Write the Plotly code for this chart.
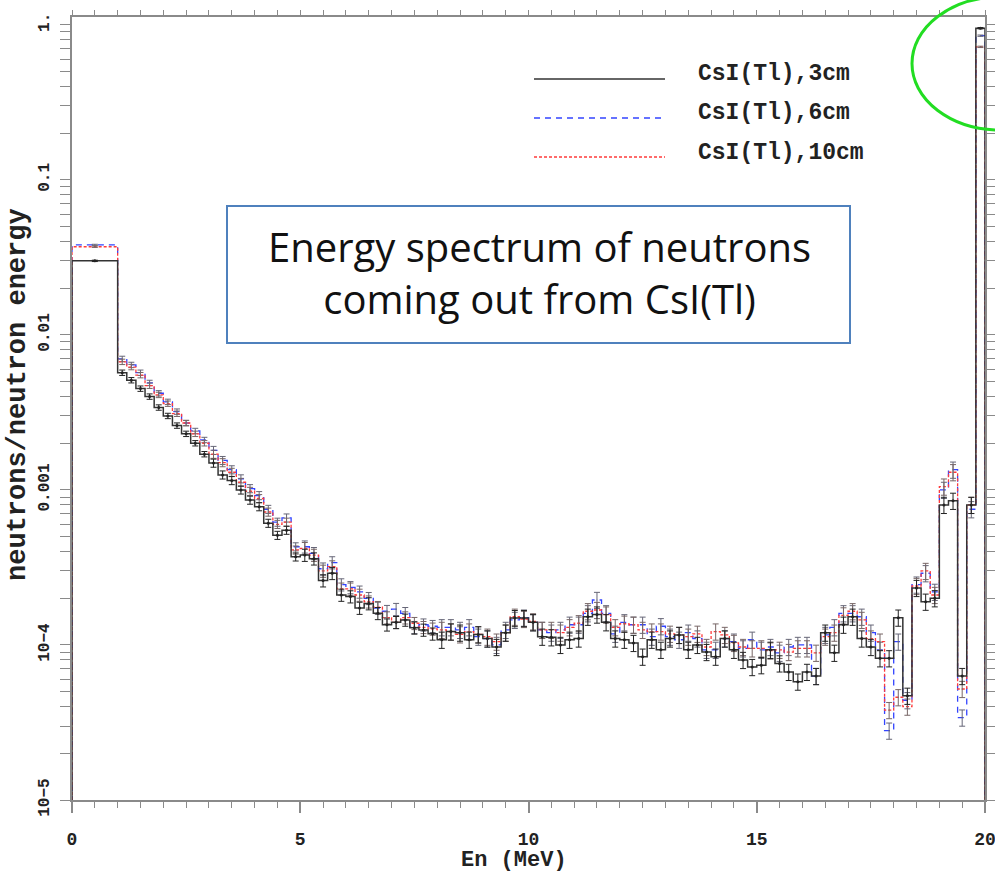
import plotly.graph_objects as go

# ---------------- data ----------------
# bin edges: first bin 0-1 MeV, then 0.2 MeV bins up to 20 MeV
edges = [0.0] + [round(1.0 + 0.2 * i, 1) for i in range(96)]

csi_3cm = [0.030,
    0.0057, 0.0051, 0.0045, 0.0040, 0.0034,
    0.0030, 0.0026, 0.0023, 0.0020, 0.0017,
    0.00149, 0.00125, 0.00115, 0.0010, 0.00086,
    0.00078, 0.00061, 0.00051, 0.00055, 0.00037,
    0.00038, 0.00036, 0.00026, 0.00029, 0.00021,
    0.000205, 0.000173, 0.000185, 0.00016, 0.000135,
    0.00014, 0.000145, 0.000129, 0.000125, 0.000118,
    0.000108, 0.000122, 0.00012, 0.000108, 0.000117,
    0.00011, 0.000097, 0.00012, 0.000149, 0.000149,
    0.00014, 0.000113, 0.000112, 0.0001, 0.000108,
    0.00011, 0.000152, 0.000157, 0.00014, 0.00011,
    0.000108, 0.000103, 0.000084, 0.000108, 0.000093,
    0.00011, 0.000116, 0.000093, 0.0001, 0.00009,
    0.000084, 0.00011, 0.000093, 0.00008, 0.000072,
    0.000074, 0.000093, 0.000076, 0.000067, 0.000058,
    0.000067, 0.000063, 0.00012, 0.000089, 0.000135,
    0.000152, 0.00011, 0.000097, 0.000082, 0.000082,
    0.00015, 0.000047, 0.000233, 0.00019, 0.0002,
    0.0008, 0.00085, 0.000063, 0.0008, 0.95]

csi_6cm = [0.038,
    0.0070, 0.0064, 0.0057, 0.0049, 0.0042,
    0.0037, 0.0032, 0.0027, 0.0024, 0.0021,
    0.0018, 0.00155, 0.00135, 0.00118, 0.00102,
    0.00092, 0.00075, 0.00062, 0.00066, 0.00043,
    0.00043, 0.00039, 0.00031, 0.00034, 0.000245,
    0.000235, 0.00022, 0.0002, 0.000173, 0.000165,
    0.00017, 0.00016, 0.00013, 0.000135, 0.000132,
    0.00013, 0.00013, 0.000125, 0.00013, 0.000113,
    0.00011, 0.0001, 0.000125, 0.000145, 0.00015,
    0.00014, 0.000125, 0.00012, 0.000125, 0.000135,
    0.000135, 0.00016, 0.000195, 0.00016, 0.000118,
    0.00014, 0.000135, 0.000135, 0.000113, 0.000132,
    0.000113, 0.000108, 0.00012, 0.00011, 0.000093,
    0.000093, 0.00011, 0.000105, 0.000095, 0.000108,
    0.000093, 0.000097, 0.000089, 0.000097, 0.0001,
    0.0001, 0.000063, 0.000116, 0.00013, 0.00016,
    0.00016, 0.000152, 0.00012, 0.000093, 0.000028,
    0.000105, 0.000044, 0.000245, 0.00029, 0.00022,
    0.001, 0.00135, 0.000034, 0.00075, 0.85]

csi_10cm = [0.037,
    0.0067, 0.0062, 0.0055, 0.0047, 0.0041,
    0.0036, 0.0031, 0.0027, 0.0023, 0.0020,
    0.0017, 0.0015, 0.0013, 0.00112, 0.00098,
    0.00088, 0.00072, 0.0006, 0.00062, 0.00041,
    0.00042, 0.00038, 0.0003, 0.00032, 0.00023,
    0.00023, 0.00021, 0.00019, 0.000175, 0.00015,
    0.00014, 0.00015, 0.000138, 0.00013, 0.000127,
    0.000125, 0.000122, 0.000117, 0.000122, 0.000117,
    0.000113, 0.000105, 0.00012, 0.000152, 0.000147,
    0.000142, 0.000125, 0.000125, 0.00012, 0.00013,
    0.000138, 0.000165, 0.000168, 0.000157, 0.00013,
    0.000137, 0.000135, 0.000125, 0.000122, 0.000122,
    0.000118, 0.000116, 0.000113, 0.000118, 0.000097,
    0.000122, 0.000116, 0.000103, 0.000097, 0.000095,
    0.000095, 0.000092, 0.000093, 0.00009, 0.000095,
    0.000095, 0.000089, 0.000113, 0.00012, 0.000155,
    0.000165, 0.000145, 0.00011, 0.000105, 0.000038,
    0.000046, 0.00004, 0.00024, 0.0003, 0.00021,
    0.00105, 0.0013, 0.000052, 0.0008, 0.72]

# relative statistical errors per bin (estimated by region)
rel_err = [0.01] + [0.04] * 10 + [0.06] * 10 + [0.09] * 15 + [0.12] * 59 + [0.01]

series_names = ["CsI(Tl),3cm", "CsI(Tl),6cm", "CsI(Tl),10cm"]
y_major_labels = ["10\u22125", "10\u22124", "0.001", "0.01", "0.1", "1."]
box_text = "Energy spectrum of neutrons<br>coming out from CsI(Tl)"

# ---------------- layout helpers ----------------
W, H = 995, 875
L, R, T, B = 72, 10, 17, 75
PW, PH = W - L - R, H - T - B

def px(xp):
    return (xp - L) / PW

def py(yp):
    return (H - B - yp) / PH

MONO = "Liberation Mono"
FLOOR = 1e-7

centers = [(edges[i] + edges[i + 1]) / 2 for i in range(len(edges) - 1)]

def step_xy(vals):
    xs = [edges[0], edges[0]] + edges[1:-1] + [edges[-1], edges[-1]]
    ys = [FLOOR] + list(vals) + [vals[-1], FLOOR]
    return xs, ys

styles = [
    dict(color="#333333", dash="solid", width=1.5, ecol="#222222"),
    dict(color="#3344ff", dash="6px,5px", width=1.3, ecol="#666677"),
    dict(color="#ff3b3b", dash="3px,2px", width=1.3, ecol="#776666"),
]
data_sets = [csi_3cm, csi_6cm, csi_10cm]

fig = go.Figure()
for idx in [1, 2, 0]:
    vals = data_sets[idx]
    st = styles[idx]
    xs, ys = step_xy(vals)
    fig.add_trace(go.Scatter(
        x=xs, y=ys, mode="lines", line_shape="hv",
        line=dict(color=st["color"], dash=st["dash"], width=st["width"]),
        name=series_names[idx], showlegend=False, hoverinfo="skip"))
    fig.add_trace(go.Scatter(
        x=centers, y=vals, mode="markers",
        marker=dict(size=3 if idx == 0 else 1, color=st["ecol"]),
        error_y=dict(type="data", array=[v * e for v, e in zip(vals, rel_err)],
                     color=st["ecol"], thickness=1, width=3),
        showlegend=False, hoverinfo="skip"))

# dummy trace for the mirrored top/right axes
fig.add_trace(go.Scatter(x=[None], y=[None], xaxis="x2", yaxis="y2",
                         showlegend=False, hoverinfo="skip"))

y_ticks = []
y_text = []
for d in range(-5, 1):
    for m in range(1, 10):
        v = m * 10 ** d
        if v > 1.01:
            break
        y_ticks.append(v)
        y_text.append(y_major_labels[d + 5] if m == 1 else "")

axis_col = "#8a8a8a"
tfont_x = dict(family=MONO, size=18, color="#222222", weight="bold")
tfont_y = dict(family=MONO, size=16, color="#222222", weight="bold")

fig.update_layout(
    width=W, height=H,
    margin=dict(l=L, r=R, t=T, b=B, autoexpand=False),
    paper_bgcolor="white", plot_bgcolor="white",
    showlegend=False,
    xaxis=dict(range=[0, 20], showline=True, linecolor=axis_col, linewidth=2,
               ticks="outside", ticklen=11, tickwidth=1.5, tickcolor=axis_col,
               tick0=0, dtick=5, tickfont=tfont_x, ticklabelstandoff=10,
               ticklabeloverflow="allow",
               showgrid=False, zeroline=False, automargin=False,
               minor=dict(ticks="outside", ticklen=6, dtick=0.5, tickcolor=axis_col,
                          tickwidth=1.2, showgrid=False)),
    xaxis2=dict(range=[0, 20], overlaying="x", side="top", showline=True,
                linecolor=axis_col, linewidth=2, ticks="outside", ticklen=5,
                tickwidth=1.2, tickcolor=axis_col, tick0=0, dtick=0.5,
                showticklabels=False, showgrid=False, zeroline=False, automargin=False),
    yaxis=dict(type="log", range=[-5, 0.05], showline=True, linecolor=axis_col,
               linewidth=2, ticks="outside", ticklen=10, tickwidth=1.2,
               tickcolor=axis_col, tickmode="array", tickvals=y_ticks,
               ticktext=y_text, tickangle=-90, tickfont=tfont_y,
               ticklabelstandoff=5, ticklabeloverflow="allow",
               showgrid=False, zeroline=False, automargin=False),
    yaxis2=dict(type="log", range=[-5, 0.05], overlaying="y", side="right",
                showline=True, linecolor=axis_col, linewidth=2, ticks="outside",
                ticklen=9, tickwidth=1.2, tickcolor=axis_col, tickmode="array",
                tickvals=y_ticks, ticktext=[""] * len(y_ticks),
                showgrid=False, zeroline=False, automargin=False),
)

shapes = []
annotations = []

# legend (drawn manually to match the long line samples)
leg_line_y = [79, 118, 157]
leg_text_y = [74, 113, 153]
for i in range(3):
    st = styles[i]
    shapes.append(dict(type="line", xref="paper", yref="paper",
                       x0=px(534), x1=px(665), y0=py(leg_line_y[i]), y1=py(leg_line_y[i]),
                       line=dict(color=st["color"], dash=st["dash"], width=st["width"])))
    annotations.append(dict(xref="paper", yref="paper", x=px(696), y=py(leg_text_y[i]),
                            xanchor="left", yanchor="middle", showarrow=False,
                            text=series_names[i],
                            font=dict(family=MONO, size=23, color="#222222", weight="bold")))

# text box
shapes.append(dict(type="rect", xref="paper", yref="paper",
                   x0=px(227), x1=px(850), y0=py(343), y1=py(206),
                   line=dict(color="#4f81bd", width=2), fillcolor="white", layer="above"))
annotations.append(dict(xref="paper", yref="paper", x=px(539), y=py(272),
                        xanchor="center", yanchor="middle", showarrow=False,
                        text=box_text,
                        font=dict(family="Open Sans", size=40, color="#111111")))

# green ellipse highlight
shapes.append(dict(type="circle", xref="paper", yref="paper",
                   x0=px(912), x1=px(1088), y0=py(130), y1=py(-3),
                   line=dict(color="#22dd22", width=3)))

# axis titles
annotations.append(dict(xref="paper", yref="paper", x=px(514), y=py(860),
                        xanchor="center", yanchor="middle", showarrow=False,
                        text="En (MeV)",
                        font=dict(family=MONO, size=22, color="#222222", weight="bold")))
annotations.append(dict(xref="paper", yref="paper", x=px(18), y=py(395),
                        xanchor="center", yanchor="middle", showarrow=False,
                        textangle=-90, text="neutrons/neutron energy",
                        font=dict(family=MONO, size=27, color="#222222", weight="bold")))

fig.update_layout(shapes=shapes, annotations=annotations)
fig.write_html("out.html")
